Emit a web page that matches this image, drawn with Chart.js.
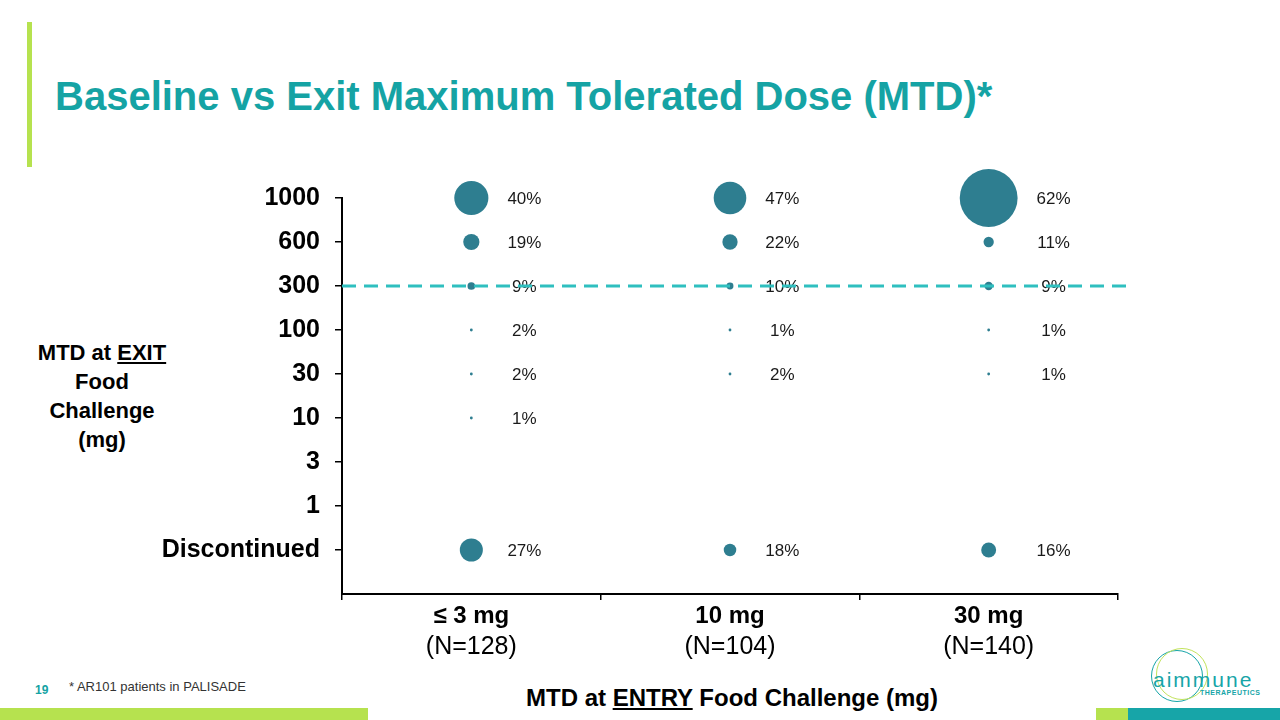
<!DOCTYPE html>
<html>
<head>
<meta charset="utf-8">
<script src="https://cdn.jsdelivr.net/npm/chart.js@4.4.1/dist/chart.umd.min.js"></script>
<style>
  body { margin: 0; width: 1280px; height: 720px; position: relative; overflow: hidden; background: #fff;
         font-family: "Liberation Sans", Arial, sans-serif; }
  #chart { position: absolute; left: 0; top: 0; }
  .accent { position: absolute; left: 27px; top: 22px; width: 5px; height: 145px; background: #b6e24f; }
  .title { position: absolute; left: 55px; top: 76px; font-size: 40px; line-height: 40px; font-weight: bold; color: #15a3a4; white-space: nowrap; }
  .ytitle { position: absolute; left: 2px; top: 338px; width: 200px; text-align: center; font-size: 22px; line-height: 29px; font-weight: bold; color: #000; }
  .xtitle { position: absolute; left: 432px; top: 686px; width: 600px; text-align: center; font-size: 24px; line-height: 24px; font-weight: bold; color: #000; white-space: nowrap; }
  .page { position: absolute; left: 35px; top: 683px; font-size: 12px; font-weight: bold; color: #15a3a4; }
  .note { position: absolute; left: 69px; top: 679px; font-size: 13px; color: #333; white-space: nowrap; }
  .band { position: absolute; top: 708px; height: 12px; }
  .logo { position: absolute; left: 1150px; top: 652px; width: 120px; height: 60px; }
  .ring { position: absolute; width: 52px; height: 52px; border-radius: 50%; border: 1.5px solid; box-sizing: border-box; }
  .logo .word { position: absolute; left: 3px; top: 16px; font-size: 21px; letter-spacing: 2px; color: #17a5a8; }
  .logo .sub { position: absolute; left: 50px; top: 37px; font-size: 7px; font-weight: bold; letter-spacing: 0.5px; color: #17a5a8; }
</style>
</head>
<body>
<div class="accent"></div>
<div class="title">Baseline vs Exit Maximum Tolerated Dose (MTD)*</div>
<div class="ytitle">MTD at <u>EXIT</u><br>Food<br>Challenge<br>(mg)</div>
<div class="xtitle">MTD at <u>ENTRY</u> Food Challenge (mg)</div>
<div class="page">19</div>
<div class="note">* AR101 patients in PALISADE</div>
<div class="logo">
  <div class="ring" style="left:1px;top:-2px;border-color:#17a5a8"></div>
  <div class="ring" style="left:6px;top:-4px;border-color:#c2e35c"></div>
  <div class="word">aimmune</div>
  <div class="sub">THERAPEUTICS</div>
</div>
<div class="band" style="left:0;width:368px;background:#b6e24f"></div>
<div class="band" style="left:1096px;width:32px;background:#b6e24f"></div>
<div class="band" style="left:1128px;width:152px;background:#17a5a8"></div>
<canvas id="chart" width="1280" height="720"></canvas>

<script>
// entry groups (x axis)
const entryLabels = ["≤ 3 mg", "10 mg", "30 mg"];
const entryN = ["(N=128)", "(N=104)", "(N=140)"];
const entryCount = [128, 104, 140];

// exit levels (y axis), bottom to top
const exitLabels = ["Discontinued", "1", "3", "10", "30", "100", "300", "600", "1000"];

// % of patients at each exit level, null = nobody
const pctLe3 = [27, null, null, 1, 2, 2, 9, 19, 40];
const pct10 = [18, null, null, null, 2, 1, 10, 22, 47];
const pct30 = [16, null, null, null, 1, 1, 9, 11, 62];

const thresholdLevel = "300";

const FONT = "'Liberation Sans', Arial, sans-serif";
const groups = [pctLe3, pct10, pct30];

// bubble size follows number of patients
function bubbleRadius(pct, n) {
  return Math.max(1.4, pct / 100 * n / 3);
}

const points = [];
groups.forEach((vals, g) => {
  vals.forEach((p, i) => {
    if (p == null) return;
    points.push({ x: entryLabels[g], y: i + 1, r: bubbleRadius(p, entryCount[g]), pct: p, g: g });
  });
});

const labelPlugin = {
  id: "labels",
  afterDatasetsDraw(chart) {
    const ctx = chart.ctx;
    const xs = chart.scales.x;
    const ys = chart.scales.y;
    const meta = chart.getDatasetMeta(0);

    // biggest bubble per column decides where the % labels go
    const maxR = [0, 0, 0];
    points.forEach(p => { maxR[p.g] = Math.max(maxR[p.g], p.r); });

    ctx.save();
    ctx.font = "17px " + FONT;
    ctx.fillStyle = "#1a1a1a";
    ctx.textAlign = "center";
    ctx.textBaseline = "middle";
    meta.data.forEach((el, i) => {
      const p = points[i];
      ctx.fillText(p.pct + "%", el.x + maxR[p.g] + 36, el.y + 1);
    });

    // second line of the x labels
    ctx.font = "25px " + FONT;
    ctx.fillStyle = "#000";
    entryN.forEach((t, i) => {
      ctx.fillText(t, xs.getPixelForTick(i), xs.top + 53);
    });

    // dashed line at threshold
    const yLine = ys.getPixelForValue(exitLabels.indexOf(thresholdLevel) + 1);
    ctx.strokeStyle = "#2fbfbf";
    ctx.lineWidth = 3;
    ctx.setLineDash([14, 8]);
    ctx.beginPath();
    ctx.moveTo(chart.chartArea.left, yLine);
    ctx.lineTo(chart.chartArea.right + 10, yLine);
    ctx.stroke();
    ctx.restore();
  }
};

new Chart(document.getElementById("chart"), {
  type: "bubble",
  data: {
    labels: entryLabels,
    datasets: [{
      data: points,
      backgroundColor: "#2e7e90",
      borderWidth: 0,
      clip: false
    }]
  },
  options: {
    responsive: false,
    animation: false,
    layout: { padding: { top: 198, right: 162, left: 0, bottom: 0 } },
    plugins: { legend: { display: false }, tooltip: { enabled: false } },
    scales: {
      x: {
        type: "category",
        offset: true,
        grid: { offset: true, drawOnChartArea: false, tickLength: 6, color: "#000", lineWidth: 1.5 },
        border: { color: "#000", width: 2 },
        ticks: { color: "#000", padding: 2, maxRotation: 0, font: { family: FONT, size: 24, weight: "bold" } },
        afterFit: s => { s.height = 126; }
      },
      y: {
        type: "linear",
        min: 0,
        max: 9,
        grid: {
          drawOnChartArea: false,
          tickLength: 7,
          lineWidth: 1.5,
          color: c => (c.tick && c.tick.value === 0) ? "rgba(0,0,0,0)" : "#000"
        },
        border: { color: "#000", width: 2 },
        ticks: {
          stepSize: 1,
          autoSkip: false,
          padding: 15,
          color: "#000",
          font: { family: FONT, size: 25, weight: "bold" },
          callback: v => v === 0 ? "" : exitLabels[v - 1]
        },
        afterFit: s => { s.width = 342; }
      }
    }
  },
  plugins: [labelPlugin]
});
</script>
</body>
</html>
